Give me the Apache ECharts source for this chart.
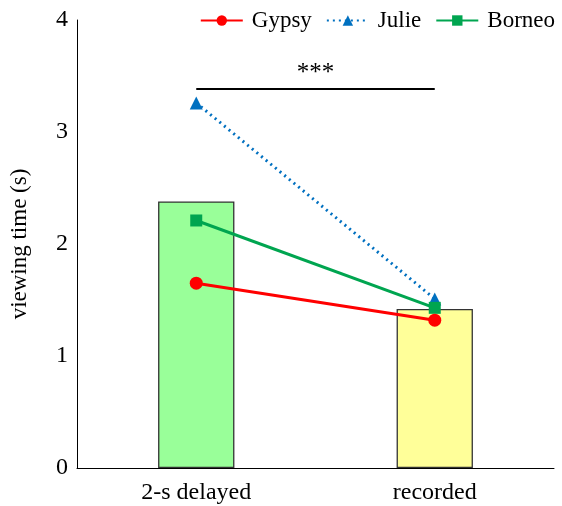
<!DOCTYPE html>
<html>
<head>
<meta charset="utf-8">
<script src="https://cdn.jsdelivr.net/npm/echarts@6/dist/echarts.min.js"></script>
<style>html,body{margin:0;padding:0;background:#fff;}#c{width:562px;height:506px;}</style>
</head>
<body>
<div id="c"></div>
<script>
const categories = ['2-s delayed', 'recorded'];
const barMeans = [2.38, 1.42];
const gypsy = [1.65, 1.32];
const julie = [3.26, 1.51];
const borneo = [2.21, 1.43];
const sigLevel = 3.39;
const sigText = '***';
const yTicks = [0, 1, 2, 3, 4];

const font = 'Liberation Serif';
const chart = echarts.init(document.getElementById('c'));
chart.setOption({
  animation: false,
  textStyle: { fontFamily: font },
  grid: { left: 77, right: 8, top: 20, bottom: 38, containLabel: false, outerBoundsMode: 'none' },
  legend: {
    top: 4, right: 2,
    itemWidth: 42, itemHeight: 13, itemGap: 14,
    textStyle: { fontFamily: font, fontSize: 23, color: '#000', padding: [0, 0, 0, 4] },
    data: ['Gypsy', 'Julie', 'Borneo']
  },
  xAxis: {
    type: 'category', data: categories,
    axisLine: { lineStyle: { color: '#000', width: 1 } },
    axisTick: { show: false },
    axisLabel: { fontFamily: font, fontSize: 24, color: '#000', margin: 13 }
  },
  yAxis: {
    type: 'value', min: yTicks[0], max: yTicks[yTicks.length - 1], interval: 1,
    name: 'viewing time (s)', nameLocation: 'middle', nameGap: 46,
    nameTextStyle: { fontFamily: font, fontSize: 23, color: '#000' },
    axisLine: { show: true, lineStyle: { color: '#000', width: 1 } },
    axisTick: { show: false },
    splitLine: { show: false },
    axisLabel: { fontFamily: font, fontSize: 24, color: '#000', margin: 9 }
  },
  series: [
    {
      type: 'bar', barWidth: '32%',
      data: barMeans.map((v, i) => ({ value: v, itemStyle: { color: i === 0 ? '#99FF99' : '#FFFF99' } })),
      itemStyle: { borderColor: '#333', borderWidth: 1.3 },
      z: 1
    },
    {
      type: 'line', name: 'sig', data: [], silent: true,
      markLine: {
        symbol: 'none', silent: true,
        lineStyle: { color: '#000', width: 2.2, type: 'solid' },
        label: { show: true, position: 'middle', formatter: sigText, fontFamily: font, fontSize: 25, color: '#000', distance: 2 },
        data: [[{ coord: [0, sigLevel] }, { coord: [1, sigLevel] }]]
      }
    },
    {
      type: 'line', name: 'Julie', data: julie,
      symbol: 'triangle', symbolSize: 13,
      itemStyle: { color: '#0070C0' },
      lineStyle: { color: '#0070C0', width: 3, type: [2, 4] },
      z: 3
    },
    {
      type: 'line', name: 'Borneo', data: borneo,
      symbol: 'rect', symbolSize: 12,
      itemStyle: { color: '#00A550' },
      lineStyle: { color: '#00A550', width: 3 },
      z: 4
    },
    {
      type: 'line', name: 'Gypsy', data: gypsy,
      symbol: 'circle', symbolSize: 13,
      itemStyle: { color: '#FF0000' },
      lineStyle: { color: '#FF0000', width: 3 },
      z: 5
    }
  ]
});
</script>
</body>
</html>
